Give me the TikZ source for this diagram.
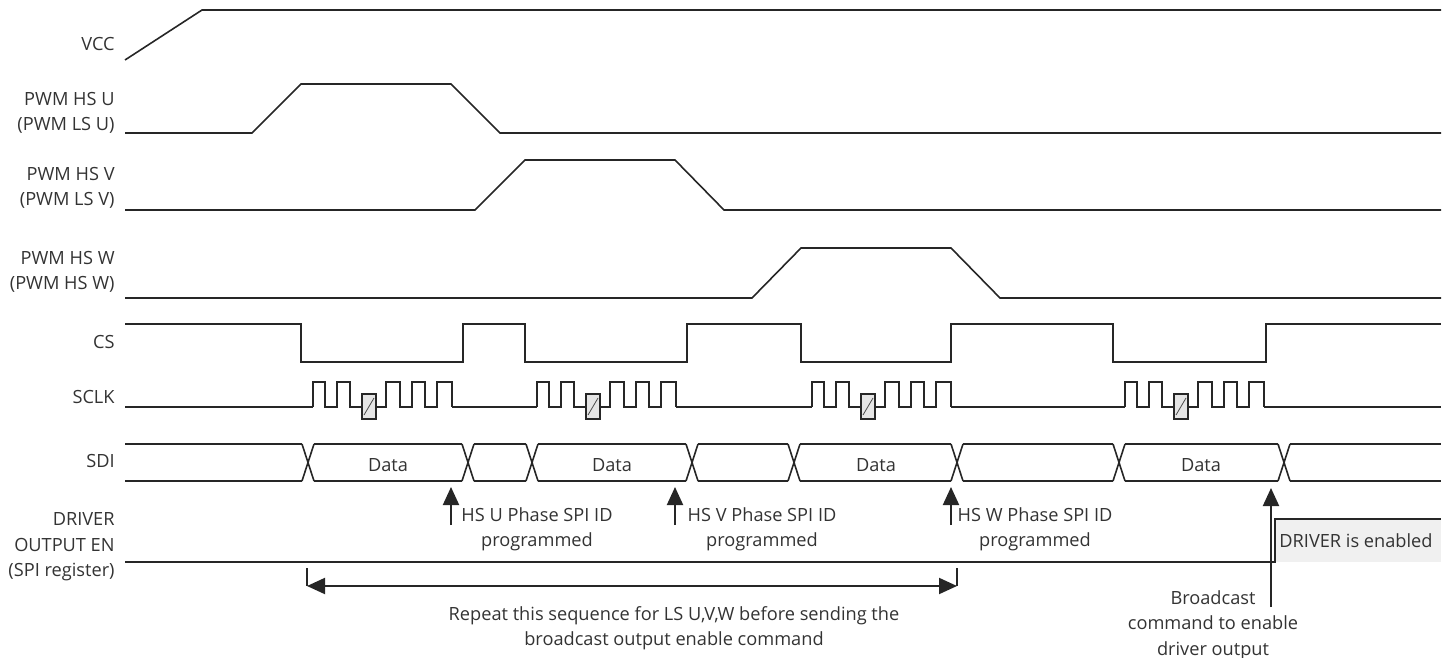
\documentclass[tikz,border=0pt]{standalone}
\usepackage{fontspec}
\setmainfont{Open Sans}
\usetikzlibrary{positioning, arrows.meta}

\begin{document}
\begin{tikzpicture}[x=0.5pt, y=-0.5pt,
    wave/.style={line width=0.8pt, black!85},
    lbl/.style={anchor=east, align=right, inner sep=0pt, text=black!80,
                font=\fontsize{9.1}{12.7}\selectfont},
    note/.style={align=center, inner sep=0pt, text=black!80,
                 font=\fontsize{9.1}{12.7}\selectfont},
    uparrow/.style={-{Triangle[width=8pt, length=9pt]}, line width=1pt, black!85}]
\useasboundingbox (0,0) rectangle (1445,658);

% signal names
\node[lbl] (vcc) at (115,44) {VCC};
\node[lbl] (pwmu) at (115,113) {PWM HS U\\(PWM LS U)};
\node[lbl] (pwmv) at (115,188) {PWM HS V\\(PWM LS V)};
\node[lbl] (pwmw) at (115,272) {PWM HS W\\(PWM HS W)};
\node[lbl] (cs) at (115,342) {CS};
\node[lbl] (sclk) at (115,397) {SCLK};
\node[lbl] (sdi) at (115,461) {SDI};
\node[lbl] (drv) at (115,547) {DRIVER\\OUTPUT EN\\(SPI register)};

% supply and phases
\draw[wave] (125,60) -- (202,10) -- (1441,10);
\draw[wave] (125,133) -- (252,133) -- (301,84) -- (451,84) -- (500,133) -- (1441,133);
\draw[wave] (125,210) -- (475,210) -- (525,160) -- (675,160) -- (724,210) -- (1441,210);
\draw[wave] (125,298) -- (752,298) -- (801,248) -- (951,248) -- (1000,298) -- (1441,298);

% chip select
\draw[wave] (125,324) -| (301,362) -| (463,324) -| (525,362) -| (687,324)
    -| (801,362) -| (951,324) -| (1113,362) -| (1266,324) -- (1441,324);

% clock
\foreach \a/\b in {125/313, 452/537, 676/812, 951/1125, 1264/1441}
    \draw[wave] (\a,407) -- (\b,407);
\foreach \s in {313, 537, 812, 1125} {
    \draw[wave] (\s,407) |- (\s+12,382) |- (\s+24,407) |- (\s+37,382) |- (\s+73,407)
        |- (\s+87,382) |- (\s+99,407) |- (\s+112,382) |- (\s+124,407) |- (\s+139,382)
        -- (\s+139,407);
    \draw[wave, fill=gray!20] (\s+49,394) rectangle (\s+63,419);
    \draw[line width=0.4pt, black!70] (\s+51,415) -- (\s+61,398);
}

% data line
\foreach \a/\b in {125/302, 314/462, 474/526, 538/686, 698/788, 800/951, 963/1113, 1125/1278, 1290/1441}
    \draw[wave] (\a,444) -- (\b,444) (\a,481) -- (\b,481);
\foreach \c in {308, 468, 532, 692, 794, 957, 1119, 1284}
    \draw[wave] (\c-6,444) -- (\c+6,481) (\c-6,481) -- (\c+6,444);
\node[note] (d1) at (388,465) {Data};
\node[note] (d2) at (612,465) {Data};
\node[note] (d3) at (876,465) {Data};
\node[note] (d4) at (1201,465) {Data};

% driver enable
\fill[gray!12] (1275,519) rectangle (1441,562);
\draw[wave] (125,562) -- (1275,562) -- (1275,519) -- (1441,519);
\node[note, anchor=west] (en) at (1279,541) {DRIVER is enabled};

% programmed markers
\coordinate (tu) at (451,487);
\coordinate (bu) at (451,525);
\coordinate (tv) at (675,487);
\coordinate (bv) at (675,525);
\coordinate (tw) at (951,487);
\coordinate (bw) at (951,525);
\draw[uparrow] (bu) -- (tu);
\draw[uparrow] (bv) -- (tv);
\draw[uparrow] (bw) -- (tw);
\node[note] (hsu) at (537,529) {HS U Phase SPI ID\\programmed};
\node[note] (hsv) at (762,529) {HS V Phase SPI ID\\programmed};
\node[note] (hsw) at (1035,529) {HS W Phase SPI ID\\programmed};

% repeat span
\coordinate (rl) at (307,586);
\coordinate (rr) at (957,586);
\draw[line width=1pt, black!85] (307,568) -- (rl) (957,568) -- (rr);
\draw[{Triangle[width=8pt, length=9pt]}-{Triangle[width=8pt, length=9pt]}, line width=1pt, black!85] (rl) -- (rr);
\node[note] (rep) at (674,628) {Repeat this sequence for LS U,V,W before sending the\\broadcast output enable command};

% broadcast
\coordinate (tb) at (1271,488);
\coordinate (bb) at (1271,607);
\draw[uparrow] (bb) -- (tb);
\node[note] (bc) at (1213,625) {Broadcast\\command to enable\\driver output};
\end{tikzpicture}
\end{document}
